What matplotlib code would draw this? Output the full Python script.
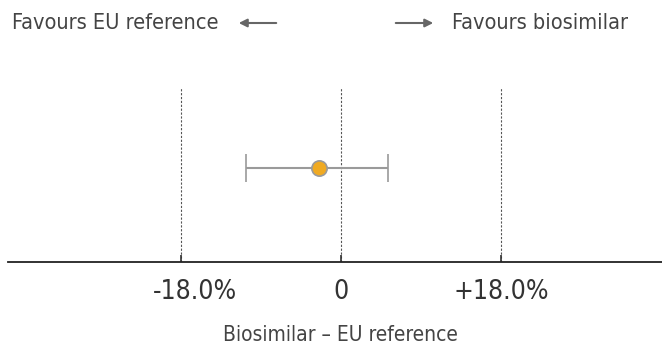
import matplotlib.pyplot as plt
import matplotlib.transforms as mtransforms
from matplotlib.patches import FancyArrowPatch

plt.rcParams['font.family'] = ['DejaVu Sans']
plt.rcParams['font.stretch'] = 'condensed'

# difference biosimilar - EU reference (%)
estimate = -2.5
ci_low = -10.7
ci_high = 5.3
margin = 18.0
tick_vals = [-margin, 0, margin]
tick_labels = ['-18.0%', '0', '+18.0%']

W, H = 662, 352
fig = plt.figure(figsize=(W / 100, H / 100), dpi=100)
ax = fig.add_axes([8 / W, 90 / H, 1 - 8 / W, 174 / H])

for v in tick_vals:
    ax.axvline(v, color='#555555', lw=0.8, ls=(0, (2, 1.5)), zorder=1)

ax.errorbar([estimate], [0.54], xerr=[[estimate - ci_low], [ci_high - estimate]],
            fmt='o', color='#9a9a9a', ecolor='#9a9a9a', elinewidth=1.5, capsize=10,
            capthick=1.5, markersize=11, markerfacecolor='#f0aa22',
            markeredgecolor='#9a9a9a', markeredgewidth=1.2, zorder=3)

ax.set_xlim(-37.4, 36.1)
ax.set_ylim(0, 1)
for s in ['top', 'left', 'right']:
    ax.spines[s].set_visible(False)
ax.spines['bottom'].set_linewidth(1.3)
ax.spines['bottom'].set_color('#222222')
ax.set_yticks([])
ax.set_xticks(tick_vals)
ax.set_xticklabels(tick_labels, fontsize=19, color='#333333')
ax.tick_params(axis='x', direction='in', length=5, width=1.2, colors='#333333', pad=12)
# first label sits a bit right of its tick in the original
lbl = ax.get_xticklabels()[0]
lbl.set_transform(lbl.get_transform() + mtransforms.ScaledTranslation(14 / 100, 0, fig.dpi_scale_trans))

fig.text(340 / W, 1 - 335 / H, 'Biosimilar \u2013 EU reference', ha='center', va='center',
         fontsize=15, color='#444444')

fig.text(12 / W, 1 - 23 / H, 'Favours EU reference', ha='left', va='center',
         fontsize=15.6, color='#444444')
fig.text(452 / W, 1 - 23 / H, 'Favours biosimilar', ha='left', va='center',
         fontsize=15.6, color='#444444')
fig.patches.append(FancyArrowPatch(
    (279 / W, 1 - 23 / H), (236 / W, 1 - 23 / H), transform=fig.transFigure,
    arrowstyle='-|>', mutation_scale=12, color='#666666', lw=1.5))
fig.patches.append(FancyArrowPatch(
    (393 / W, 1 - 23 / H), (436 / W, 1 - 23 / H), transform=fig.transFigure,
    arrowstyle='-|>', mutation_scale=12, color='#666666', lw=1.5))

fig.savefig('out.png', dpi=100)
